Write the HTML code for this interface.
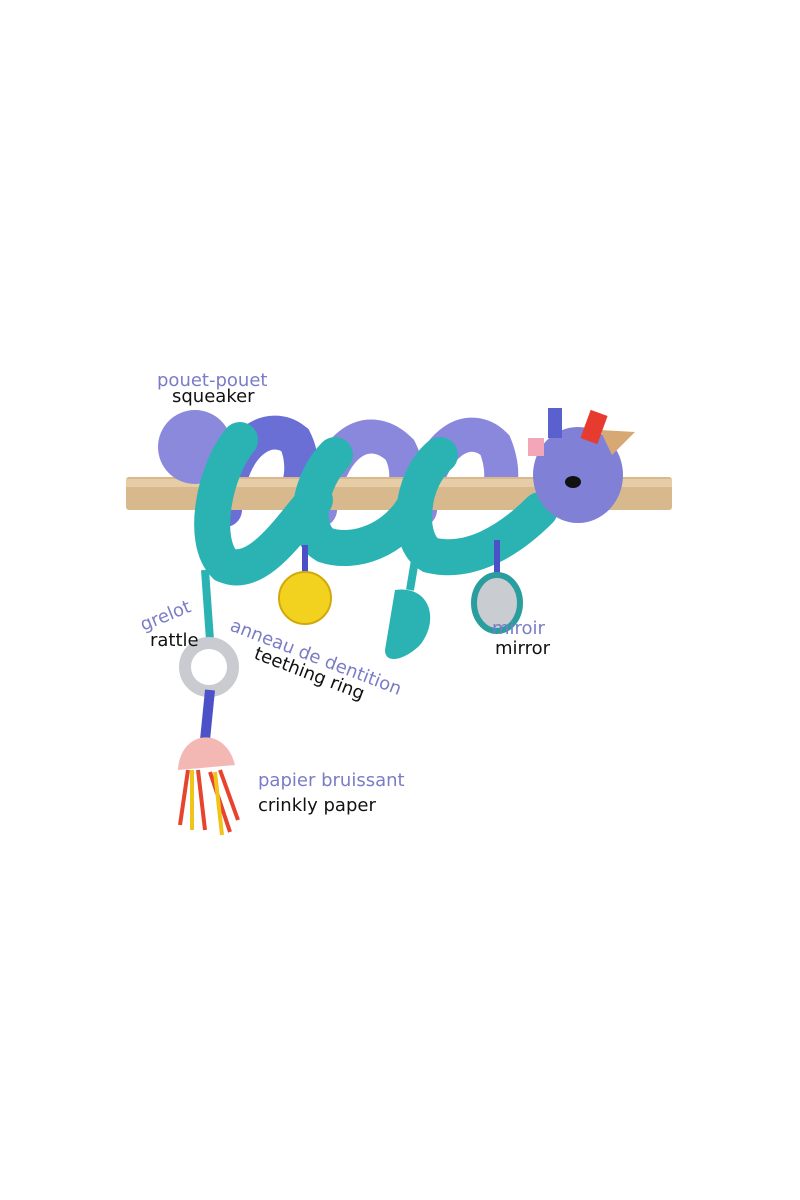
<!DOCTYPE html>
<html><head><meta charset="utf-8"><style>
html,body{margin:0;padding:0;background:#fff;}
body{width:800px;height:1200px;position:relative;overflow:hidden;font-family:"DejaVu Sans","Liberation Sans",sans-serif;}
.t{position:absolute;font-size:18px;white-space:nowrap;line-height:1;}
.p{color:#7a7cc6;} .b{color:#111;}
svg{position:absolute;left:0;top:0;}
</style></head><body>
<svg width="800" height="1200" viewBox="0 0 800 1200">
  <!-- back coils -->
  <path d="M225,510 C230,440 270,420 295,440 C305,460 300,480 300,480" stroke="#6a6fd6" stroke-width="34" fill="none" stroke-linecap="round"/>
  <path d="M320,510 C330,440 370,420 400,450 C410,470 405,485 405,485" stroke="#8a88dc" stroke-width="34" fill="none" stroke-linecap="round"/>
  <path d="M420,510 C430,440 470,420 495,445 C505,470 500,485 500,485" stroke="#8a88dc" stroke-width="34" fill="none" stroke-linecap="round"/>
  <!-- rod -->
  <rect x="126" y="477" width="546" height="33" rx="3" fill="#d8b98e"/>
  <rect x="126" y="479" width="546" height="8" fill="#e6cda6"/>
  <!-- ball -->
  <circle cx="195" cy="447" r="37" fill="#8b89dc"/>
  <!-- front coils -->
  <path d="M240,440 C215,470 200,540 225,565 C260,580 295,520 315,500" stroke="#2bb3b3" stroke-width="36" fill="none" stroke-linecap="round"/>
  <path d="M335,455 C310,480 300,530 325,545 C355,555 395,540 415,505" stroke="#2bb3b3" stroke-width="36" fill="none" stroke-linecap="round"/>
  <path d="M440,455 C410,480 405,540 430,555 C470,565 510,540 540,510" stroke="#2bb3b3" stroke-width="36" fill="none" stroke-linecap="round"/>
  <!-- head -->
  <ellipse cx="578" cy="475" rx="45" ry="48" fill="#7f80d6"/>
  <path d="M600,430 L635,432 L612,455Z" fill="#d7a874"/>
  <rect x="585" y="412" width="18" height="30" fill="#e63b2e" transform="rotate(20 594 427)"/>
  <rect x="548" y="408" width="14" height="30" fill="#5b60cf"/>
  <rect x="528" y="438" width="16" height="18" fill="#f2a6b8"/>
  <ellipse cx="573" cy="482" rx="8" ry="6" fill="#111"/>
  <!-- hanging items -->
  <line x1="205" y1="570" x2="210" y2="640" stroke="#2bb3b3" stroke-width="8"/>
  <circle cx="209" cy="667" r="24" fill="none" stroke="#c9cbd0" stroke-width="12"/>
  <line x1="210" y1="690" x2="205" y2="740" stroke="#4b52c8" stroke-width="10"/>
  <path d="M178,770 C180,730 225,725 235,765 Z" fill="#f3b7b4"/>
  <path d="M188,770 L180,825 M198,770 L205,830 M210,772 L230,832 M220,770 L238,820" stroke="#e8432c" stroke-width="4"/>
  <path d="M192,770 L192,830 M215,772 L222,835" stroke="#f0c419" stroke-width="4"/>
  <line x1="305" y1="545" x2="305" y2="575" stroke="#4b52c8" stroke-width="6"/>
  <circle cx="305" cy="598" r="26" fill="#f3d21f" stroke="#d2a90a" stroke-width="2"/>
  <line x1="415" y1="560" x2="410" y2="590" stroke="#2bb3b3" stroke-width="8"/>
  <path d="M395,590 C430,585 440,620 420,645 C405,660 385,665 385,650 Z" fill="#2bb3b3"/>
  <line x1="497" y1="540" x2="497" y2="575" stroke="#4b52c8" stroke-width="6"/>
  <ellipse cx="497" cy="603" rx="23" ry="28" fill="#c9ccd1" stroke="#2a9e9e" stroke-width="6"/>
</svg>
<div class="t p" style="left:157px;top:372px;">pouet-pouet</div>
<div class="t b" style="left:172px;top:388px;">squeaker</div>
<div class="t p" style="left:138px;top:618px;transform:rotate(-22deg);transform-origin:left top;">grelot</div>
<div class="t b" style="left:150px;top:632px;">rattle</div>
<div class="t p" style="left:234px;top:617px;transform:rotate(21deg);transform-origin:left top;">anneau de dentition</div>
<div class="t b" style="left:258px;top:645px;transform:rotate(21deg);transform-origin:left top;">teething ring</div>
<div class="t p" style="left:492px;top:620px;">miroir</div>
<div class="t b" style="left:495px;top:640px;">mirror</div>
<div class="t p" style="left:258px;top:772px;">papier bruissant</div>
<div class="t b" style="left:258px;top:797px;">crinkly paper</div>
</body></html>
